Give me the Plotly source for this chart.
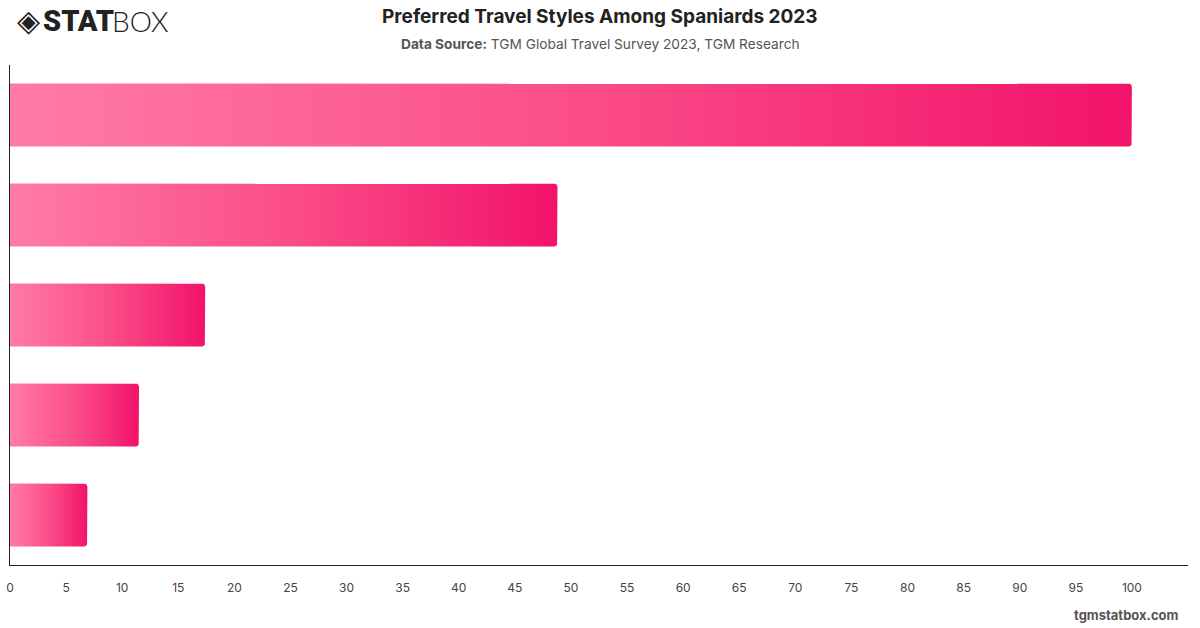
import plotly.graph_objects as go
import numpy as np

# ---- data ----
categories = ["Style A", "Style B", "Style C", "Style D", "Style E"]
values = [100, 48.8, 17.4, 11.5, 6.9]
x_ticks = list(range(0, 101, 5))

# ---- layout geometry ----
W, H = 1200, 628
ML, MR, MT, MB = 10, 12, 65, 63
XMAX = 105
plot_w = W - ML - MR
plot_h = H - MT - MB
px_per_x = plot_w / XMAX
px_per_y = plot_h / len(categories)

half_h = 0.315
radius_px = 3.5
rx = radius_px / px_per_x
ry = radius_px / px_per_y

fig = go.Figure()
theta = np.linspace(0, np.pi / 2, 8)
for i, (cat, v) in enumerate(zip(categories, values)):
    y0, y1 = i - half_h, i + half_h
    xs = [0, v - rx]
    ys = [y0, y0]
    cx, cy = v - rx, y0 + ry
    xs += list(cx + rx * np.sin(theta))
    ys += list(cy - ry * np.cos(theta))
    cx, cy = v - rx, y1 - ry
    xs += list(cx + rx * np.cos(theta))
    ys += list(cy + ry * np.sin(theta))
    xs += [v - rx, 0, 0]
    ys += [y1, y1, y0]
    fig.add_trace(go.Scatter(
        x=xs, y=ys, mode="lines", fill="toself",
        line=dict(width=0, color="rgba(0,0,0,0)"),
        fillgradient=dict(type="horizontal",
                          colorscale=[[0, "#FF7BA6"], [0.5, "#FB4E89"], [1, "#F2136A"]]),
        name=cat, hoverinfo="skip", showlegend=False,
    ))

def py(p):
    return (H - MB - p) / plot_h

def px(p):
    return (p - ML) / plot_w

fig.update_layout(
    width=W, height=H,
    margin=dict(l=ML, r=MR, t=MT, b=MB, autoexpand=False),
    paper_bgcolor="white", plot_bgcolor="white",
    font=dict(family="Inter, Roboto, sans-serif", color="#444"),
    xaxis=dict(range=[0, XMAX], tickvals=x_ticks, ticktext=[str(t) for t in x_ticks],
               showgrid=False, zeroline=False, showline=True, linecolor="#222", linewidth=1,
               ticks="outside", ticklen=12, tickcolor="rgba(0,0,0,0)", automargin=False,
               tickfont=dict(size=12, color="#444")),
    yaxis=dict(range=[len(categories) - 0.5, -0.5], showticklabels=False, automargin=False,
               showgrid=False, zeroline=False, showline=True, linecolor="#222", linewidth=1,
               ticks=""),
    annotations=[
        dict(text="<b>Preferred Travel Styles Among Spaniards 2023</b>", x=px(600), y=py(17),
             xref="paper", yref="paper", xanchor="center", yanchor="middle", showarrow=False,
             font=dict(size=19, color="#222")),
        dict(text="<b>Data Source:</b> TGM Global Travel Survey 2023, TGM Research", x=px(600), y=py(44),
             xref="paper", yref="paper", xanchor="center", yanchor="middle", showarrow=False,
             font=dict(size=13.7, color="#555")),
        dict(text="<b>tgmstatbox.com</b>", x=px(1181), y=py(615),
             xref="paper", yref="paper", xanchor="right", yanchor="middle", showarrow=False,
             font=dict(size=13, color="#555")),
        dict(text="◈", x=px(15), y=py(21),
             xref="paper", yref="paper", xanchor="left", yanchor="middle", showarrow=False,
             font=dict(size=30, color="#222", family="DejaVu Sans")),
        dict(text="STAT", x=px(41), y=py(21),
             xref="paper", yref="paper", xanchor="left", yanchor="middle", showarrow=False,
             font=dict(size=29, color="#222", family="Roboto, sans-serif", weight=900)),
        dict(text="BOX", x=px(110), y=py(21),
             xref="paper", yref="paper", xanchor="left", yanchor="middle", showarrow=False,
             font=dict(size=28, color="#222", family="Lato, Roboto, sans-serif", weight=300)),
    ],
)

fig.write_html("out.html")
